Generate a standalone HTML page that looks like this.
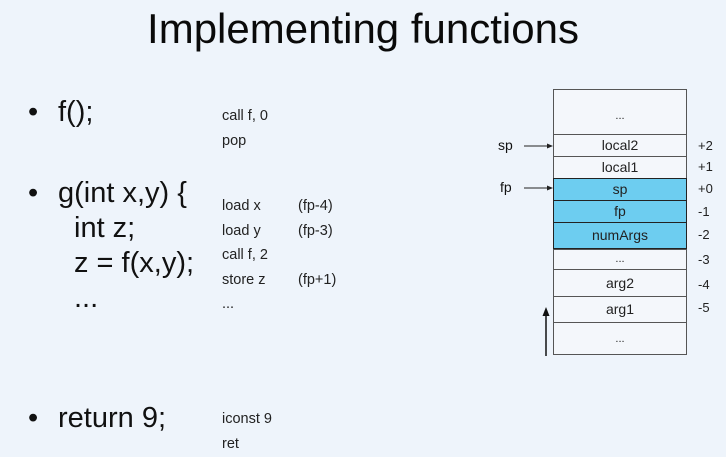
<!DOCTYPE html>
<html><head><style>
body{margin:0;width:726px;height:457px;background:#eef4fb;position:relative;overflow:hidden;font-family:"Liberation Sans",sans-serif;color:#111}
.a{position:absolute;white-space:nowrap}
.t{font-size:42px;left:0;width:726px;text-align:center;top:5px;color:#0a0a0a}
.b{font-size:29px;line-height:35px}
.c{font-size:14.5px;line-height:24.5px;color:#222}
.cell{position:absolute;left:553px;width:134px;border:1px solid #555;box-sizing:border-box;text-align:center;font-size:14px;color:#222;background:#f4f7fb}
.blue{background:#6dcdf0;border:1.5px solid #222}
.n{position:absolute;left:698px;font-size:13px;color:#222}
</style></head><body>
<div class="a t">Implementing functions</div>
<div class="a b" style="left:28px;top:95px"><span style="display:inline-block;width:30px">•</span>f();</div>
<div class="a b" style="left:28px;top:176px"><span style="display:inline-block;width:30px">•</span>g(int x,y) {</div>
<div class="a b" style="left:74px;top:211px">int z;<br>z = f(x,y);<br>...</div>
<div class="a b" style="left:28px;top:401px"><span style="display:inline-block;width:30px">•</span>return 9;</div>
<div class="a c" style="left:222px;top:104px">call f, 0<br>pop</div>
<div class="a c" style="left:222px;top:194px">load x<br>load y<br>call f, 2<br>store z<br>...</div>
<div class="a c" style="left:298px;top:194px">(fp-4)<br>(fp-3)<br><br>(fp+1)</div>
<div class="a c" style="left:222px;top:407px">iconst 9<br>ret</div>

<div class="cell" style="top:89px;height:46px;line-height:52px;font-size:11px">...</div>
<div class="cell" style="top:134px;height:23px;line-height:21px">local2</div>
<div class="cell" style="top:156px;height:23px;line-height:21px">local1</div>
<div class="cell blue" style="top:178px;height:23px;line-height:20px">sp</div>
<div class="cell blue" style="top:200px;height:23px;line-height:20px">fp</div>
<div class="cell blue" style="top:222px;height:27px;line-height:24px">numArgs</div>
<div class="cell" style="top:249px;height:21px;line-height:18px;font-size:11px">...</div>
<div class="cell" style="top:269px;height:28px;line-height:26px">arg2</div>
<div class="cell" style="top:296px;height:27px;line-height:25px">arg1</div>
<div class="cell" style="top:322px;height:33px;line-height:33px;font-size:11px">...</div>

<div class="a" style="left:498px;top:137px;font-size:14px">sp</div>
<div class="a" style="left:500px;top:179px;font-size:14px">fp</div>
<svg class="a" style="left:0;top:0" width="726" height="457">
<line x1="524" y1="146" x2="549" y2="146" stroke="#222" stroke-width="1"/>
<polygon points="553,146 547,143.5 547,148.5" fill="#222"/>
<line x1="524" y1="188" x2="549" y2="188" stroke="#222" stroke-width="1"/>
<polygon points="553,188 547,185.5 547,190.5" fill="#222"/>
<line x1="546" y1="356" x2="546" y2="314" stroke="#111" stroke-width="1.5"/>
<polygon points="546,307 542.5,316 549.5,316" fill="#111"/>
</svg>
<div class="n" style="top:138px">+2</div>
<div class="n" style="top:159px">+1</div>
<div class="n" style="top:181px">+0</div>
<div class="n" style="top:204px">-1</div>
<div class="n" style="top:227px">-2</div>
<div class="n" style="top:252px">-3</div>
<div class="n" style="top:277px">-4</div>
<div class="n" style="top:300px">-5</div>
</body></html>
